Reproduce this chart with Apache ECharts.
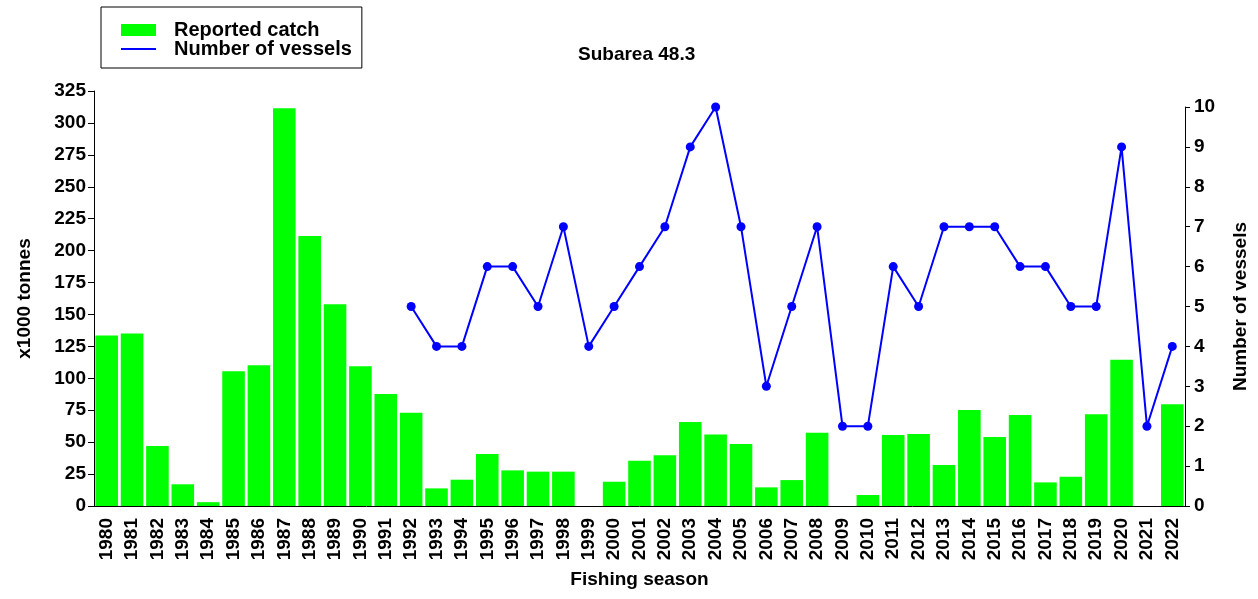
<!DOCTYPE html>
<html>
<head>
<meta charset="utf-8">
<title>Subarea 48.3</title>
<script src="https://cdn.jsdelivr.net/npm/echarts@6/dist/echarts.min.js"></script>
<style>
    html, body { margin: 0; padding: 0; background: #fff; }
    #chart { width: 1258px; height: 599px; }
</style>
</head>
<body>
<div id="chart"></div>
<script>
// fishing seasons
var seasons = ['1980', '1981', '1982', '1983', '1984', '1985', '1986', '1987', '1988', '1989',
    '1990', '1991', '1992', '1993', '1994', '1995', '1996', '1997', '1998', '1999',
    '2000', '2001', '2002', '2003', '2004', '2005', '2006', '2007', '2008', '2009',
    '2010', '2011', '2012', '2013', '2014', '2015', '2016', '2017', '2018', '2019',
    '2020', '2021', '2022'];

// reported catch, x1000 tonnes
var reportedCatch = [133.5, 135, 47, 17, 3, 105.6, 110.3, 311.5, 211.4, 158,
    109.5, 87.7, 73, 13.8, 20.6, 40.7, 27.9, 26.9, 26.9, 0,
    19, 35.5, 39.7, 65.8, 55.9, 48.5, 14.6, 20.3, 57.4, 0,
    8.6, 55.6, 56.4, 32.1, 75.2, 54, 71.3, 18.5, 22.9, 71.8,
    114.5, 0, 79.6];

// number of vessels (no data before 1992)
var vessels = [null, null, null, null, null, null, null, null, null, null,
    null, null, 5, 4, 4, 6, 6, 5, 7, 4,
    5, 6, 7, 9, 10, 7, 3, 5, 7, 2,
    2, 6, 5, 7, 7, 7, 6, 6, 5, 5,
    9, 2, 4];

var font = '"Liberation Sans", Arial, sans-serif';
var txt = { color: '#000', fontFamily: font, fontWeight: 'bold', fontSize: 19 };

var chart = echarts.init(document.getElementById('chart'));

var option = {
    animation: false,
    backgroundColor: '#fff',
    textStyle: { fontFamily: font },
    title: {
        text: 'Subarea 48.3',
        left: 573,
        top: 40,
        textStyle: txt
    },
    legend: {
        orient: 'vertical',
        left: 101,
        top: 7,
        padding: [13, 10, 9, 19],
        borderColor: '#000',
        borderWidth: 1,
        itemWidth: 35,
        itemHeight: 12,
        itemGap: -1,
        textStyle: {
            color: '#000', fontFamily: font, fontWeight: 'bold', fontSize: 20,
            lineHeight: 14, padding: [0, 0, 0, 13]
        },
        data: [
            { name: 'Reported catch', icon: 'rect' },
            { name: 'Number of vessels', itemStyle: { opacity: 0 } }
        ]
    },
    grid: [
        { left: 94, right: 73, top: 91, bottom: 93 },
        { left: 94, right: 73, top: 107, bottom: 93 }
    ],
    xAxis: [
        {
            type: 'category',
            gridIndex: 0,
            data: seasons,
            name: 'Fishing season',
            nameLocation: 'middle',
            nameGap: 64,
            nameTextStyle: txt,
            axisLine: { lineStyle: { color: '#000', width: 1 } },
            axisTick: { alignWithLabel: true, interval: 0, length: 6, lineStyle: { color: '#000' } },
            axisLabel: { interval: 0, rotate: 90, margin: 12, color: '#000', fontFamily: font, fontWeight: 'bold', fontSize: 19 }
        },
        {
            type: 'category',
            gridIndex: 1,
            data: seasons,
            show: false
        }
    ],
    yAxis: [
        {
            type: 'value',
            gridIndex: 0,
            min: 0,
            max: 325,
            interval: 25,
            name: 'x1000 tonnes',
            nameLocation: 'middle',
            nameGap: 60,
            nameRotate: 90,
            nameTextStyle: txt,
            axisLine: { show: true, lineStyle: { color: '#000', width: 1 } },
            axisTick: { show: true, length: 6, lineStyle: { color: '#000' } },
            axisLabel: { margin: 8, color: '#000', fontFamily: font, fontWeight: 'bold', fontSize: 19 },
            splitLine: { show: false }
        },
        {
            type: 'value',
            gridIndex: 1,
            position: 'right',
            min: 0,
            max: 10,
            interval: 1,
            name: 'Number of vessels',
            nameLocation: 'middle',
            nameGap: 46,
            nameRotate: 90,
            nameTextStyle: txt,
            axisLine: { show: true, lineStyle: { color: '#000', width: 1 } },
            axisTick: { show: true, length: 5, lineStyle: { color: '#000' } },
            axisLabel: { margin: 9, color: '#000', fontFamily: font, fontWeight: 'bold', fontSize: 19 },
            splitLine: { show: false }
        }
    ],
    series: [
        {
            name: 'Reported catch',
            type: 'bar',
            xAxisIndex: 0,
            yAxisIndex: 0,
            data: reportedCatch,
            barCategoryGap: '11%',
            itemStyle: { color: '#00ff00' }
        },
        {
            name: 'Number of vessels',
            type: 'line',
            xAxisIndex: 1,
            yAxisIndex: 1,
            data: vessels,
            connectNulls: false,
            symbol: 'circle',
            symbolSize: 9,
            lineStyle: { color: '#0000ff', width: 2 },
            itemStyle: { color: '#0000ff' }
        }
    ]
};

chart.setOption(option);

window.onresize = function () {
    setTimeout(function () {
        chart.resize();
    }, 200);
};
</script>
</body>
</html>
